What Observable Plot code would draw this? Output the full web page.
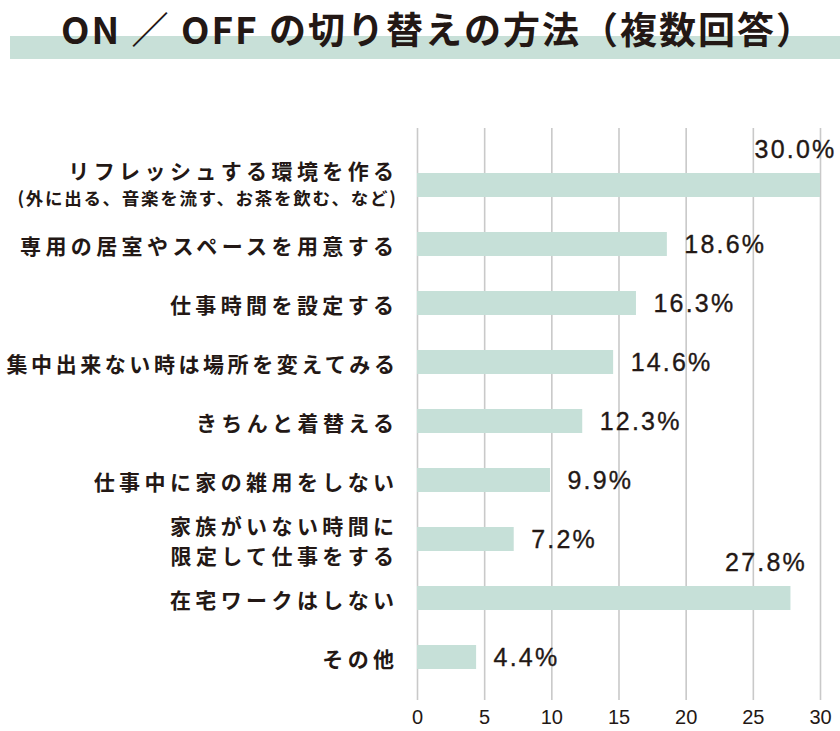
<!DOCTYPE html>
<html><head><meta charset="utf-8">
<script src="https://cdn.jsdelivr.net/npm/d3@7"></script>
<script src="https://cdn.jsdelivr.net/npm/@observablehq/plot@0.6"></script>
<style>
body{margin:0;background:#fff;}
#wrap{width:840px;}
#title{position:relative;width:840px;height:70px;}
#band{position:absolute;left:10px;top:36px;width:830px;height:23px;background:#c8e0d8;}
#ttext{position:absolute;left:18px;width:840px;top:4px;text-align:center;font-family:"Noto Sans CJK JP";font-weight:700;font-size:37px;line-height:48px;color:#231815;letter-spacing:2px;}
.lbl text{letter-spacing:4.4px;}
.sub text{letter-spacing:1.7px;}
.val text{letter-spacing:2.2px;}
</style></head><body>
<div id="wrap">
<div id="title"><div id="band"></div><div id="ttext">ON ／ OFF の切り替えの方法（複数回答）</div></div>
<div id="chart"></div>
</div>
<script>
const categories = [
  "リフレッシュする環境を作る",
  "専用の居室やスペースを用意する",
  "仕事時間を設定する",
  "集中出来ない時は場所を変えてみる",
  "きちんと着替える",
  "仕事中に家の雑用をしない",
  "家族がいない時間に\n限定して仕事をする",
  "在宅ワークはしない",
  "その他"
];
const subLabels = ["(外に出る、音楽を流す、お茶を飲む、など)", "", "", "", "", "", "", "", ""];
const values = [30.0, 18.6, 16.3, 14.6, 12.3, 9.9, 7.2, 27.8, 4.4];
const xTicks = [0, 5, 10, 15, 20, 25, 30];

const data = categories.map((c, i) => ({key: "c" + i, label: c, sub: subLabels[i], value: values[i]}));
const hasSub = d => d.sub !== "";
const above = d => d.value > 25;

const ink = "#231815";
const jp = "'Noto Sans CJK JP', sans-serif";
const num = "'Liberation Sans', Arial, sans-serif";
const labelSize = 21;

const chart = Plot.plot({
  width: 840,
  height: 661,
  marginTop: 58,
  marginBottom: 31,
  marginLeft: 417,
  marginRight: 20,
  style: {background: "transparent", color: ink},
  x: {domain: [0, 30], axis: null},
  y: {domain: data.map(d => d.key), axis: null, paddingInner: 0.6, paddingOuter: 0, insetTop: 45, insetBottom: 31},
  marks: [
    Plot.gridX(xTicks, {stroke: "#c9c9c9", strokeOpacity: 1, strokeWidth: 1.6}),
    Plot.barX(data, {x: "value", y: "key", fill: "#c6e0d8"}),
    Plot.axisX(xTicks, {tickSize: 0, tickPadding: 9, fontSize: 20, fontFamily: num, tickFormat: d => String(d), fill: ink, label: null}),
    Plot.text(data.filter(d => !hasSub(d)), {x: 0, y: "key", text: "label", textAnchor: "end", dx: -19, fontSize: labelSize, fontFamily: jp, fontWeight: 700, fill: ink, lineHeight: 1.45, className: "lbl"}),
    Plot.text(data.filter(hasSub), {x: 0, y: "key", text: "label", textAnchor: "end", dx: -19, dy: -13, fontSize: labelSize, fontFamily: jp, fontWeight: 700, fill: ink, className: "lbl"}),
    Plot.text(data.filter(hasSub), {x: 0, y: "key", text: "sub", textAnchor: "end", dx: -20, dy: 14, fontSize: 17.5, fontFamily: jp, fontWeight: 700, fill: ink, className: "sub"}),
    Plot.text(data.filter(d => !above(d)), {x: "value", y: "key", text: d => d.value.toFixed(1) + "%", textAnchor: "start", dx: 17, fontSize: 25, fontFamily: num, fill: ink, stroke: ink, strokeWidth: 0.35, className: "val"}),
    Plot.text(data.filter(above), {x: "value", y: "key", text: d => d.value.toFixed(1) + "%", textAnchor: "end", dx: 16, dy: -36, fontSize: 25, fontFamily: num, fill: ink, stroke: ink, strokeWidth: 0.35, className: "val"})
  ]
});
document.getElementById("chart").appendChild(chart);

// fit long category labels into the left margin by tightening their letter spacing
const avail = 393;
d3.select(chart).selectAll(".lbl text").each(function () {
  const lines = this.querySelectorAll("tspan").length ? [...this.querySelectorAll("tspan")].map(t => t.textContent) : [this.textContent];
  const n = d3.max(lines, l => l.length);
  const s = Math.min(4.4, avail / n - labelSize);
  this.style.letterSpacing = s + "px";
});
</script>
</body></html>
